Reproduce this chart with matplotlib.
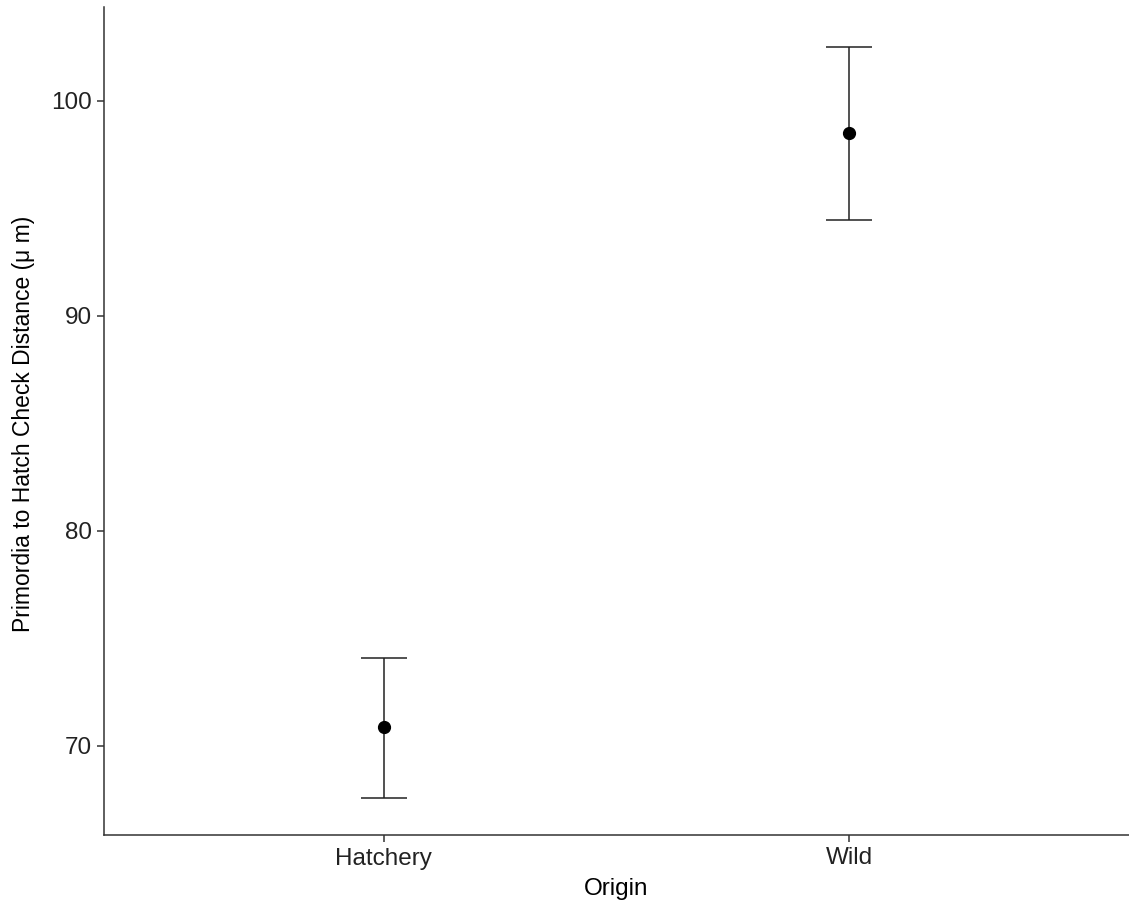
import matplotlib
matplotlib.use("Agg")
import matplotlib.pyplot as plt
import numpy as np

origins = ["Hatchery", "Wild"]
means = [70.87, 98.51]
lower = [67.58, 94.47]
upper = [74.09, 102.51]

plt.rcParams['font.family'] = ['Liberation Sans', 'DejaVu Sans']

fig = plt.figure(figsize=(11.29, 9.09), dpi=100)
ax = fig.add_axes([104 / 1129, 1 - 835 / 909, 1 - 104 / 1129, (835 - 7) / 909])

x = np.arange(1, len(origins) + 1)
m = np.array(means)
yerr = [m - np.array(lower), np.array(upper) - m]
ax.errorbar(x, m, yerr=yerr, fmt='none', ecolor='#222222', elinewidth=1.1,
            capsize=16.5, capthick=1.1)
ax.plot(x, m, 'o', color='black', markersize=8.5)

ax.set_xlim(0.4, 2.6)
ax.set_ylim(65.86, 104.37)
ax.set_xticks(x)
ax.set_xticklabels(origins)
ax.set_yticks([70, 80, 90, 100])

for side in ['top', 'right']:
    ax.spines[side].set_visible(False)
for side in ['left', 'bottom']:
    ax.spines[side].set_color('#333333')
    ax.spines[side].set_linewidth(1.1)

ax.tick_params(axis='both', length=5, width=1.1, color='#333333',
               labelsize=17.5, labelcolor='#222222', pad=4)
ax.set_xlabel('Origin', fontsize=17.5, labelpad=6)
ax.set_ylabel('Primordia to Hatch Check Distance (\u03bc m)', fontsize=16.5)
ax.yaxis.set_label_coords(-0.067, 0.496)

fig.savefig("out.png", dpi=100)
